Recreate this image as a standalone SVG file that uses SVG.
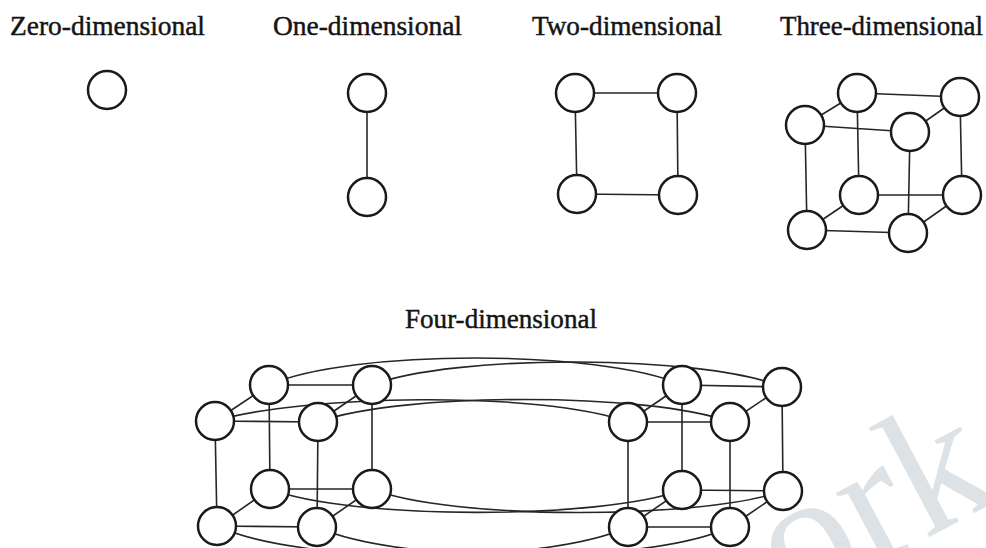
<svg xmlns="http://www.w3.org/2000/svg" width="986" height="548" viewBox="0 0 986 548">
<style>
.lbl{font-family:"Liberation Serif","Times New Roman",serif;font-size:27px;fill:#141414;stroke:#141414;stroke-width:0.45;}
.n{fill:#fff;stroke:#1a1a1a;stroke-width:2.5;}
.e{fill:none;stroke:#262626;stroke-width:1.6;}
.wm{font-family:"Liberation Serif",serif;font-size:180px;fill:#dce2e5;}
</style>
<rect width="986" height="548" fill="#fff"/>
<text class="wm" x="792" y="610" transform="rotate(-28 792 610)">ork</text>
<g id="labels">
<text class="lbl" x="10" y="35" textLength="195" lengthAdjust="spacingAndGlyphs">Zero-dimensional</text>
<text class="lbl" x="273" y="35" textLength="189" lengthAdjust="spacingAndGlyphs">One-dimensional</text>
<text class="lbl" x="532" y="35" textLength="190" lengthAdjust="spacingAndGlyphs">Two-dimensional</text>
<text class="lbl" x="780" y="35" textLength="203" lengthAdjust="spacingAndGlyphs">Three-dimensional</text>
<text class="lbl" x="405" y="328" textLength="192" lengthAdjust="spacingAndGlyphs">Four-dimensional</text>
</g>
<g id="connectors">
<line class="e" x1="367" y1="93" x2="367" y2="197"/>
<path class="e" d="M575,93 L677,93 L678,195 L577,194 Z"/>
<path class="e" d="M857,93 L960,97 M805,125 L910,132 M857,93 L805,125 M960,97 L910,132 M859,195 L962,195 M807,230 L908,233 M859,195 L807,230 M962,195 L908,233 M857,93 L859,195 M960,97 L962,195 M805,125 L807,230 M910,132 L908,233"/>
<path class="e" d="M269,385 L372,385 M215,421 L318,422 M269,385 L215,421 M372,385 L318,422 M270,489 L372,489 M217,526 L317,527 M270,489 L217,526 M372,489 L317,527 M269,385 L270,489 M372,385 L372,489 M215,421 L217,526 M318,422 L317,527"/>
<path class="e" d="M682,385 L782,387 M628,422 L730,422 M682,385 L628,422 M782,387 L730,422 M682,490 L783,491 M628,527 L730,527 M682,490 L628,527 M783,491 L730,527 M682,385 L682,490 M782,387 L783,491 M628,422 L628,527 M730,422 L730,527"/>
<path class="e" d="M269,385 C350,349 600,349 682,385"/>
<path class="e" d="M372,385 C452,354 702,354 782,387"/>
<path class="e" d="M215,421 C300,395 540,390 628,422"/>
<path class="e" d="M318,422 C400,392 650,392 730,422"/>
<path class="e" d="M270,489 C350,520 600,520 682,490"/>
<path class="e" d="M372,489 C450,520 700,520 783,491"/>
<path class="e" d="M217,526 C300,565 545,565 628,527"/>
<path class="e" d="M317,527 C400,565 650,565 730,527"/>
</g>
<g id="n0"><circle class="n" cx="107" cy="90" r="19"/></g>
<g id="n1a"><circle class="n" cx="367" cy="93" r="19"/></g>
<g id="n1b"><circle class="n" cx="367" cy="197" r="19"/></g>
<g id="n2a"><circle class="n" cx="575" cy="93" r="19"/></g>
<g id="n2b"><circle class="n" cx="677" cy="93" r="19"/></g>
<g id="n2c"><circle class="n" cx="577" cy="194" r="19"/></g>
<g id="n2d"><circle class="n" cx="678" cy="195" r="19"/></g>
<g id="n3tbl"><circle class="n" cx="857" cy="93" r="19"/></g>
<g id="n3tbr"><circle class="n" cx="960" cy="97" r="19"/></g>
<g id="n3bbl"><circle class="n" cx="859" cy="195" r="19"/></g>
<g id="n3bbr"><circle class="n" cx="962" cy="195" r="19"/></g>
<g id="n3tfl"><circle class="n" cx="805" cy="125" r="19"/></g>
<g id="n3tfr"><circle class="n" cx="910" cy="132" r="19"/></g>
<g id="n3bfl"><circle class="n" cx="807" cy="230" r="19"/></g>
<g id="n3bfr"><circle class="n" cx="908" cy="233" r="19"/></g>
<g id="n4ltbl"><circle class="n" cx="269" cy="385" r="19"/></g>
<g id="n4ltbr"><circle class="n" cx="372" cy="385" r="19"/></g>
<g id="n4lbbl"><circle class="n" cx="270" cy="489" r="19"/></g>
<g id="n4lbbr"><circle class="n" cx="372" cy="489" r="19"/></g>
<g id="n4ltfl"><circle class="n" cx="215" cy="421" r="19"/></g>
<g id="n4ltfr"><circle class="n" cx="318" cy="422" r="19"/></g>
<g id="n4lbfl"><circle class="n" cx="217" cy="526" r="19"/></g>
<g id="n4lbfr"><circle class="n" cx="317" cy="527" r="19"/></g>
<g id="n4rtbl"><circle class="n" cx="682" cy="385" r="19"/></g>
<g id="n4rtbr"><circle class="n" cx="782" cy="387" r="19"/></g>
<g id="n4rbbl"><circle class="n" cx="682" cy="490" r="19"/></g>
<g id="n4rbbr"><circle class="n" cx="783" cy="491" r="19"/></g>
<g id="n4rtfl"><circle class="n" cx="628" cy="422" r="19"/></g>
<g id="n4rtfr"><circle class="n" cx="730" cy="422" r="19"/></g>
<g id="n4rbfl"><circle class="n" cx="628" cy="527" r="19"/></g>
<g id="n4rbfr"><circle class="n" cx="730" cy="527" r="19"/></g>
</svg>
